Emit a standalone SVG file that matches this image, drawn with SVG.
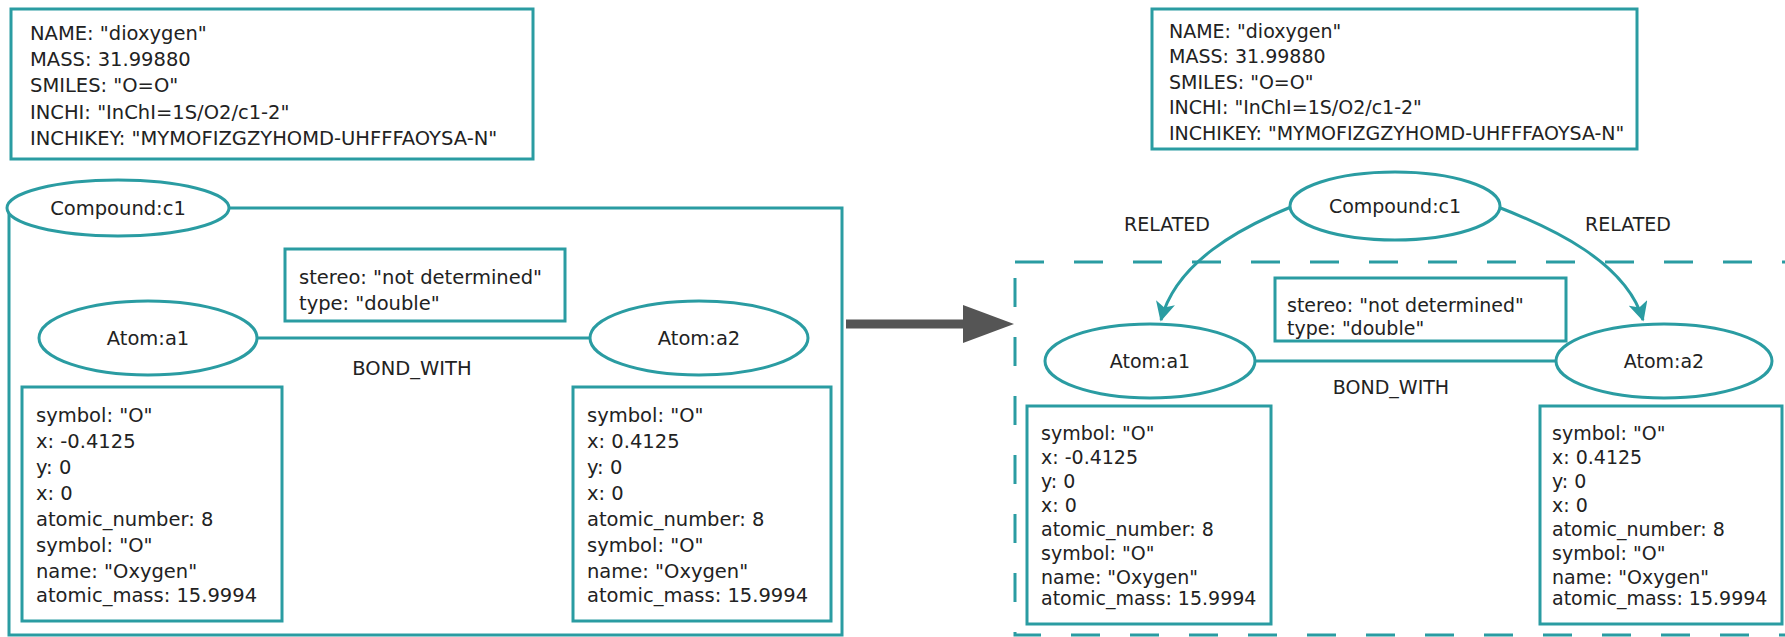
<svg xmlns="http://www.w3.org/2000/svg" width="1785" height="637" viewBox="0 0 1785 637">
<style>
.box{fill:#fff;stroke:#2a9ca2;stroke-width:3}
.ell{fill:#fff;stroke:#2a9ca2;stroke-width:3}
.edge{fill:none;stroke:#2a9ca2;stroke-width:3}
.t{font-family:"DejaVu Sans",sans-serif;font-size:19.5px;fill:#222}
.s{font-family:"DejaVu Sans",sans-serif;font-size:19px;fill:#222}
.c{text-anchor:middle}
</style>
<defs>
<marker id="ah" viewBox="0 0 12 12" refX="11" refY="6" markerWidth="6.5" markerHeight="6.5" orient="auto" markerUnits="strokeWidth">
<path d="M0,0 L12,6 L0,12 L3,6 z" fill="#2a9ca2"/>
</marker>
</defs>
<rect width="1785" height="637" fill="#fff"/>

<g id="left-compound-props">
<rect class="box" x="11" y="9" width="522" height="150"/>
<text class="t" x="30" y="40">NAME: "dioxygen"</text>
<text class="t" x="30" y="66">MASS: 31.99880</text>
<text class="t" x="30" y="92">SMILES: "O=O"</text>
<text class="t" x="30" y="119">INCHI: "InChI=1S/O2/c1-2"</text>
<text class="t" x="30" y="145">INCHIKEY: "MYMOFIZGZYHOMD-UHFFFAOYSA-N"</text>
</g>

<g id="left-container">
<rect fill="none" stroke="#2a9ca2" stroke-width="3" x="9" y="208" width="833" height="427"/>
</g>

<g id="left-compound">
<ellipse class="ell" cx="118" cy="208" rx="111" ry="28"/>
<text class="t c" x="118" y="215">Compound:c1</text>
</g>

<g id="left-connectors">
<line class="edge" x1="257" y1="338" x2="590" y2="338"/>
<text class="t c" x="412" y="375">BOND_WITH</text>
</g>

<g id="left-bond-props">
<rect class="box" x="285" y="249" width="280" height="72"/>
<text class="t" x="299" y="284">stereo: "not determined"</text>
<text class="t" x="299" y="310">type: "double"</text>
</g>

<g id="left-a1">
<ellipse class="ell" cx="148" cy="338" rx="109" ry="37"/>
<text class="t c" x="148" y="345">Atom:a1</text>
</g>
<g id="left-a2">
<ellipse class="ell" cx="699" cy="338" rx="109" ry="37"/>
<text class="t c" x="699" y="345">Atom:a2</text>
</g>

<g id="left-a1-props">
<rect class="box" x="22" y="387" width="260" height="234"/>
<text class="t" x="36" y="422">symbol: "O"</text>
<text class="t" x="36" y="448">x: -0.4125</text>
<text class="t" x="36" y="474">y: 0</text>
<text class="t" x="36" y="500">x: 0</text>
<text class="t" x="36" y="526">atomic_number: 8</text>
<text class="t" x="36" y="552">symbol: "O"</text>
<text class="t" x="36" y="578">name: "Oxygen"</text>
<text class="t" x="36" y="602">atomic_mass: 15.9994</text>
</g>
<g id="left-a2-props">
<rect class="box" x="573" y="387" width="258" height="234"/>
<text class="t" x="587" y="422">symbol: "O"</text>
<text class="t" x="587" y="448">x: 0.4125</text>
<text class="t" x="587" y="474">y: 0</text>
<text class="t" x="587" y="500">x: 0</text>
<text class="t" x="587" y="526">atomic_number: 8</text>
<text class="t" x="587" y="552">symbol: "O"</text>
<text class="t" x="587" y="578">name: "Oxygen"</text>
<text class="t" x="587" y="602">atomic_mass: 15.9994</text>
</g>

<g id="transform-arrow">
<line x1="846" y1="324" x2="966" y2="324" stroke="#555" stroke-width="9"/>
<polygon points="963,305 1014,324 963,343" fill="#555"/>
</g>

<g id="right-container">
<rect fill="none" stroke="#2a9ca2" stroke-width="3" stroke-dasharray="29,30" x="1015" y="262" width="800" height="373"/>
</g>

<g id="right-compound-props">
<rect class="box" x="1152" y="9" width="485" height="140"/>
<text class="s" x="1169" y="38">NAME: "dioxygen"</text>
<text class="s" x="1169" y="63">MASS: 31.99880</text>
<text class="s" x="1169" y="89">SMILES: "O=O"</text>
<text class="s" x="1169" y="114">INCHI: "InChI=1S/O2/c1-2"</text>
<text class="s" x="1169" y="140">INCHIKEY: "MYMOFIZGZYHOMD-UHFFFAOYSA-N"</text>
</g>

<g id="right-connectors">
<path class="edge" d="M1291,207 C1240,228 1176,262 1161,320" marker-end="url(#ah)"/>
<path class="edge" d="M1498,207 C1552,228 1626,262 1643,320" marker-end="url(#ah)"/>
<line class="edge" x1="1255" y1="361" x2="1556" y2="361"/>
<text class="s c" x="1167" y="231">RELATED</text>
<text class="s c" x="1628" y="231">RELATED</text>
<text class="s c" x="1391" y="394">BOND_WITH</text>
</g>

<g id="right-compound">
<ellipse class="ell" cx="1395" cy="206" rx="105" ry="34"/>
<text class="s c" x="1395" y="213">Compound:c1</text>
</g>

<g id="right-bond-props">
<rect class="box" x="1275" y="278" width="291" height="63"/>
<text class="s" x="1287" y="312">stereo: "not determined"</text>
<text class="s" x="1287" y="335">type: "double"</text>
</g>

<g id="right-a1">
<ellipse class="ell" cx="1150" cy="361" rx="105" ry="37"/>
<text class="s c" x="1150" y="368">Atom:a1</text>
</g>
<g id="right-a2">
<ellipse class="ell" cx="1664" cy="361" rx="108" ry="37"/>
<text class="s c" x="1664" y="368">Atom:a2</text>
</g>

<g id="right-a1-props">
<rect class="box" x="1027" y="406" width="244" height="218"/>
<text class="s" x="1041" y="440">symbol: "O"</text>
<text class="s" x="1041" y="464">x: -0.4125</text>
<text class="s" x="1041" y="488">y: 0</text>
<text class="s" x="1041" y="512">x: 0</text>
<text class="s" x="1041" y="536">atomic_number: 8</text>
<text class="s" x="1041" y="560">symbol: "O"</text>
<text class="s" x="1041" y="584">name: "Oxygen"</text>
<text class="s" x="1041" y="605">atomic_mass: 15.9994</text>
</g>
<g id="right-a2-props">
<rect class="box" x="1540" y="406" width="242" height="218"/>
<text class="s" x="1552" y="440">symbol: "O"</text>
<text class="s" x="1552" y="464">x: 0.4125</text>
<text class="s" x="1552" y="488">y: 0</text>
<text class="s" x="1552" y="512">x: 0</text>
<text class="s" x="1552" y="536">atomic_number: 8</text>
<text class="s" x="1552" y="560">symbol: "O"</text>
<text class="s" x="1552" y="584">name: "Oxygen"</text>
<text class="s" x="1552" y="605">atomic_mass: 15.9994</text>
</g>
</svg>
